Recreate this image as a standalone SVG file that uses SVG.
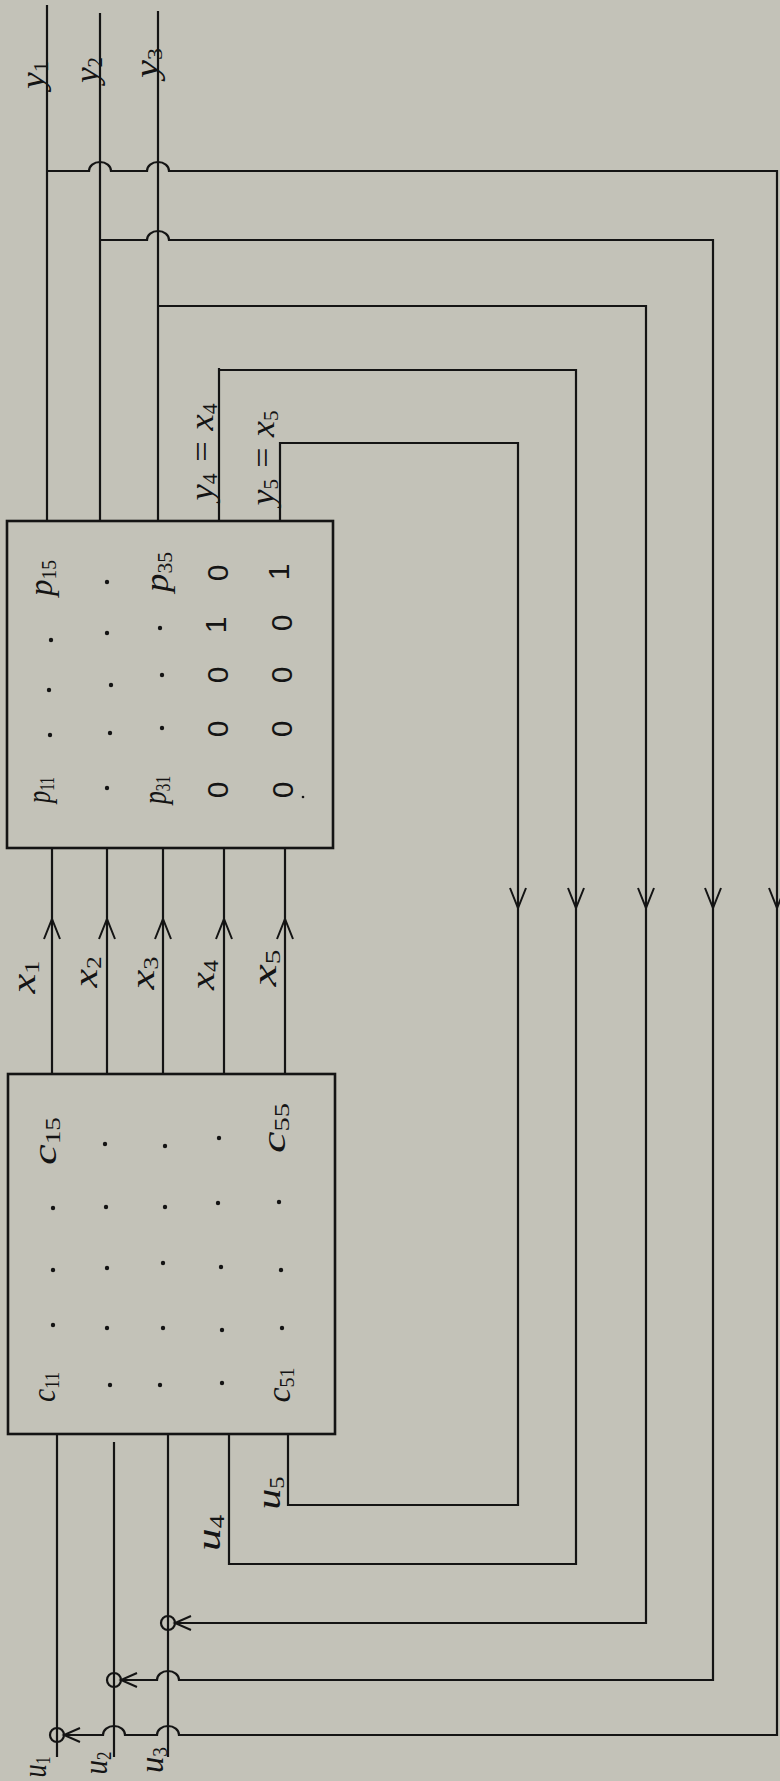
<svg xmlns="http://www.w3.org/2000/svg" xmlns:xlink="http://www.w3.org/1999/xlink" width="780" height="1781" viewBox="0 0 780 1781">
<style>
.bg{fill:#c3c2b8}
.ln{fill:none;stroke:#141414;stroke-width:2.2;stroke-linejoin:miter}
.box{fill:none;stroke:#141414;stroke-width:2.6}
.ah{fill:none;stroke:#141414;stroke-width:2}
.cir{fill:none;stroke:#141414;stroke-width:2.2}
.dot{fill:#141414}
.t{font-family:"Liberation Serif",serif;font-style:italic;font-size:34px;fill:#141414;text-anchor:middle}
.s{font-size:20px;font-style:normal}
.d{font-family:"Liberation Sans",sans-serif;font-size:30px;fill:#141414;text-anchor:middle}
</style>
<defs>
<path id="ah" d="M-8,-20 L0,0 L8,-20"/>
<path id="ahs" d="M-7,-16 L0,0 L7,-16"/>
</defs>
<rect class="bg" x="0" y="0" width="780" height="1781"/>

<g id="connectors">
  <!-- outputs y1..y5 -->
  <path class="ln" d="M47,5 V521"/>
  <path class="ln" d="M100,13 V521"/>
  <path class="ln" d="M158,11 V521"/>
  <path class="ln" d="M219,368 V521"/>
  <path class="ln" d="M280,442 V521"/>
  <!-- feedback loops -->
  <path class="ln" d="M47,171 H89 a11,9 0 0 1 22,0 H147 a11,9 0 0 1 22,0 H777 V1735 H179 a11,9 0 0 0 -22,0 H125 a11,9 0 0 0 -22,0 H64"/>
  <path class="ln" d="M100,240 H147 a11,9 0 0 1 22,0 H713 V1680 H179 a11,9 0 0 0 -22,0 H121"/>
  <path class="ln" d="M158,306 H646 V1623 H175"/>
  <path class="ln" d="M219,370 H576 V1564 H229 V1434"/>
  <path class="ln" d="M280,443 H518 V1505 H288 V1434"/>
  <!-- x lines -->
  <path class="ln" d="M52,848 V1074"/>
  <path class="ln" d="M107,848 V1074"/>
  <path class="ln" d="M163,848 V1074"/>
  <path class="ln" d="M224,848 V1074"/>
  <path class="ln" d="M285,848 V1074"/>
  <!-- inputs u1..u3 -->
  <path class="ln" d="M57,1434 V1757"/>
  <path class="ln" d="M114,1442 V1757"/>
  <path class="ln" d="M168,1434 V1757"/>
  <!-- summing junctions -->
  <circle class="cir" cx="57" cy="1735" r="7"/>
  <circle class="cir" cx="114" cy="1680" r="7"/>
  <circle class="cir" cx="168" cy="1623" r="7"/>
  <!-- arrowheads -->
  <use xlink:href="#ah" class="ah" transform="translate(518,908)"/>
  <use xlink:href="#ah" class="ah" transform="translate(576,908)"/>
  <use xlink:href="#ah" class="ah" transform="translate(646,908)"/>
  <use xlink:href="#ah" class="ah" transform="translate(713,908)"/>
  <use xlink:href="#ah" class="ah" transform="translate(777,908)"/>
  <use xlink:href="#ah" class="ah" transform="translate(52,919) rotate(180)"/>
  <use xlink:href="#ah" class="ah" transform="translate(107,919) rotate(180)"/>
  <use xlink:href="#ah" class="ah" transform="translate(163,919) rotate(180)"/>
  <use xlink:href="#ah" class="ah" transform="translate(224,919) rotate(180)"/>
  <use xlink:href="#ah" class="ah" transform="translate(285,919) rotate(180)"/>
  <use xlink:href="#ahs" class="ah" transform="translate(64,1735) rotate(90)"/>
  <use xlink:href="#ahs" class="ah" transform="translate(121,1680) rotate(90)"/>
  <use xlink:href="#ahs" class="ah" transform="translate(175,1623) rotate(90)"/>
</g>

<g id="labels">
  <text class="t" transform="translate(44,75) rotate(-90)" textLength="28" lengthAdjust="spacingAndGlyphs">y<tspan class="s" dy="4">1</tspan></text>
  <text class="t" transform="translate(98,70) rotate(-90)" textLength="26" lengthAdjust="spacingAndGlyphs">y<tspan class="s" dy="4">2</tspan></text>
  <text class="t" transform="translate(158,63) rotate(-90)" textLength="30" lengthAdjust="spacingAndGlyphs">y<tspan class="s" dy="4">3</tspan></text>
  <text class="t" transform="translate(213,452) rotate(-90)" textLength="97" lengthAdjust="spacingAndGlyphs">y<tspan class="s" dy="4">4</tspan><tspan dy="-4"> = x</tspan><tspan class="s" dy="4">4</tspan></text>
  <text class="t" transform="translate(274,458) rotate(-90)" textLength="95" lengthAdjust="spacingAndGlyphs">y<tspan class="s" dy="4">5</tspan><tspan dy="-4"> = x</tspan><tspan class="s" dy="4">5</tspan></text>
  <text class="t" transform="translate(35,977) rotate(-90)" textLength="33" lengthAdjust="spacingAndGlyphs">x<tspan class="s" dy="4">1</tspan></text>
  <text class="t" transform="translate(97,972) rotate(-90)" textLength="31" lengthAdjust="spacingAndGlyphs">x<tspan class="s" dy="4">2</tspan></text>
  <text class="t" transform="translate(154,973) rotate(-90)" textLength="33" lengthAdjust="spacingAndGlyphs">x<tspan class="s" dy="4">3</tspan></text>
  <text class="t" transform="translate(214,975) rotate(-90)" textLength="30" lengthAdjust="spacingAndGlyphs">x<tspan class="s" dy="4">4</tspan></text>
  <text class="t" transform="translate(276,968) rotate(-90)" textLength="37" lengthAdjust="spacingAndGlyphs">x<tspan class="s" dy="4">5</tspan></text>
  <text class="t" transform="translate(220,1533) rotate(-90)" textLength="36" lengthAdjust="spacingAndGlyphs">u<tspan class="s" dy="4">4</tspan></text>
  <text class="t" transform="translate(280,1493) rotate(-90)" textLength="33" lengthAdjust="spacingAndGlyphs">u<tspan class="s" dy="4">5</tspan></text>
  <text class="t" transform="translate(46,1767) rotate(-90)" textLength="21" lengthAdjust="spacingAndGlyphs">u<tspan class="s" dy="4">1</tspan></text>
  <text class="t" transform="translate(107,1763) rotate(-90)" textLength="23" lengthAdjust="spacingAndGlyphs">u<tspan class="s" dy="4">2</tspan></text>
  <text class="t" transform="translate(163,1760) rotate(-90)" textLength="26" lengthAdjust="spacingAndGlyphs">u<tspan class="s" dy="4">3</tspan></text>
</g>

<g id="node-P">
  <rect class="box" x="7" y="521" width="326" height="327"/>
  <text class="t" transform="translate(50,790) rotate(-90)" textLength="26" lengthAdjust="spacingAndGlyphs">p<tspan class="s" dy="4">11</tspan></text>
  <text class="t" transform="translate(52,578) rotate(-90)" textLength="36" lengthAdjust="spacingAndGlyphs">p<tspan class="s" dy="4">15</tspan></text>
  <text class="t" transform="translate(166,790) rotate(-90)" textLength="28" lengthAdjust="spacingAndGlyphs">p<tspan class="s" dy="4">31</tspan></text>
  <text class="t" transform="translate(168,572) rotate(-90)" textLength="40" lengthAdjust="spacingAndGlyphs">p<tspan class="s" dy="4">35</tspan></text>
  <circle class="dot" cx="50" cy="735" r="2.2"/>
  <circle class="dot" cx="49" cy="690" r="2.2"/>
  <circle class="dot" cx="51" cy="640" r="2.2"/>
  <circle class="dot" cx="107" cy="788" r="2.2"/>
  <circle class="dot" cx="110" cy="733" r="2.2"/>
  <circle class="dot" cx="111" cy="685" r="2.2"/>
  <circle class="dot" cx="107" cy="633" r="2.2"/>
  <circle class="dot" cx="107" cy="582" r="2.2"/>
  <circle class="dot" cx="162" cy="728" r="2.2"/>
  <circle class="dot" cx="162" cy="675" r="2.2"/>
  <circle class="dot" cx="160" cy="628" r="2.2"/>
  <text class="d" transform="translate(228,790) rotate(-90)">0</text>
  <text class="d" transform="translate(228,729) rotate(-90)">0</text>
  <text class="d" transform="translate(228,675) rotate(-90)">0</text>
  <text class="d" transform="translate(226,625) rotate(-90)">1</text>
  <text class="d" transform="translate(228,573) rotate(-90)">0</text>
  <text class="d" transform="translate(293,790) rotate(-90)">0</text>
  <text class="d" transform="translate(292,729) rotate(-90)">0</text>
  <text class="d" transform="translate(292,675) rotate(-90)">0</text>
  <text class="d" transform="translate(292,623) rotate(-90)">0</text>
  <text class="d" transform="translate(289,572) rotate(-90)">1</text>
  <circle class="dot" cx="303" cy="797" r="1.3"/>
</g>

<g id="node-C">
  <rect class="box" x="8" y="1074" width="327" height="360"/>
  <text class="t" transform="translate(55,1387) rotate(-90)" textLength="30" lengthAdjust="spacingAndGlyphs">c<tspan class="s" dy="4">11</tspan></text>
  <text class="t" transform="translate(56,1141) rotate(-90)" textLength="48" lengthAdjust="spacingAndGlyphs">c<tspan class="s" dy="4">15</tspan></text>
  <text class="t" transform="translate(290,1385) rotate(-90)" textLength="35" lengthAdjust="spacingAndGlyphs">c<tspan class="s" dy="4">51</tspan></text>
  <text class="t" transform="translate(285,1128) rotate(-90)" textLength="50" lengthAdjust="spacingAndGlyphs">c<tspan class="s" dy="4">55</tspan></text>
  <circle class="dot" cx="53" cy="1325" r="2.2"/>
  <circle class="dot" cx="53" cy="1270" r="2.2"/>
  <circle class="dot" cx="53" cy="1208" r="2.2"/>
  <circle class="dot" cx="110" cy="1385" r="2.2"/>
  <circle class="dot" cx="107" cy="1328" r="2.2"/>
  <circle class="dot" cx="107" cy="1268" r="2.2"/>
  <circle class="dot" cx="106" cy="1207" r="2.2"/>
  <circle class="dot" cx="105" cy="1144" r="2.2"/>
  <circle class="dot" cx="160" cy="1385" r="2.2"/>
  <circle class="dot" cx="163" cy="1328" r="2.2"/>
  <circle class="dot" cx="163" cy="1263" r="2.2"/>
  <circle class="dot" cx="165" cy="1207" r="2.2"/>
  <circle class="dot" cx="165" cy="1146" r="2.2"/>
  <circle class="dot" cx="222" cy="1383" r="2.2"/>
  <circle class="dot" cx="222" cy="1330" r="2.2"/>
  <circle class="dot" cx="221" cy="1267" r="2.2"/>
  <circle class="dot" cx="218" cy="1203" r="2.2"/>
  <circle class="dot" cx="219" cy="1138" r="2.2"/>
  <circle class="dot" cx="282" cy="1328" r="2.2"/>
  <circle class="dot" cx="281" cy="1270" r="2.2"/>
  <circle class="dot" cx="279" cy="1202" r="2.2"/>
</g>
</svg>
